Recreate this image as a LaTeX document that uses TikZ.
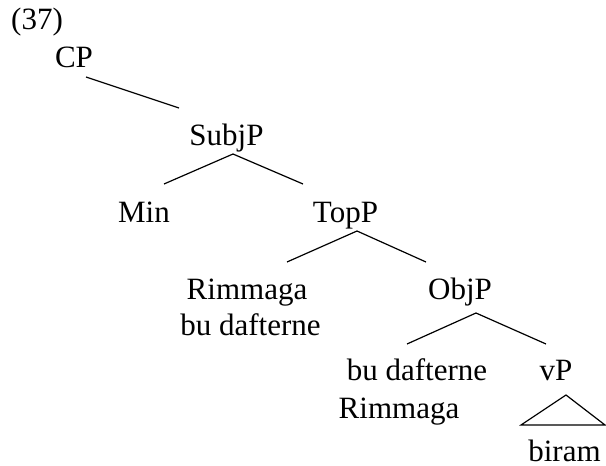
\documentclass[tikz,border=0pt]{standalone}
\usepackage{fontspec}
\setmainfont{Liberation Serif}
\begin{document}
\begin{tikzpicture}[x=1pt,y=-1pt,
  lbl/.style={anchor=base,inner sep=0pt,font=\fontsize{31}{37}\selectfont},
  branch/.style={line width=1.2pt}]
\useasboundingbox (0,0) rectangle (606,466);
% example number
\node[lbl,anchor=base west] (num) at (11,29) {(37)};
% labels
\node[lbl] (cp)    at (74,67)    {CP};
\node[lbl] (subjp) at (226.5,145) {SubjP};
\node[lbl] (min)   at (144,222)  {Min};
\node[lbl] (topp)  at (345.5,222) {TopP};
\node[lbl] (rimA)  at (247,299)  {Rimmaga};
\node[lbl] (buA)   at (250.5,335) {bu dafterne};
\node[lbl] (objp)  at (460,299)  {ObjP};
\node[lbl] (buB)   at (417,380)  {bu dafterne};
\node[lbl] (rimB)  at (399,418)  {Rimmaga};
\node[lbl] (vp)    at (556,380)  {vP};
\node[lbl,text depth=0pt] (biram) at (564.5,461.5) {biram};
% branch end points
\coordinate (cp-b)    at (86,77);
\coordinate (subj-t)  at (179,108);
\coordinate (subj-a)  at (233,154);
\coordinate (min-t)   at (164,184);
\coordinate (top-t)   at (303,184);
\coordinate (top-a)   at (357,231);
\coordinate (rim-t)   at (287,262);
\coordinate (obj-t)   at (426,262);
\coordinate (obj-a)   at (476,313);
\coordinate (bu-t)    at (407,344);
\coordinate (vp-t)    at (546,344);
\coordinate (tri-a)   at (566,395);
\coordinate (tri-l)   at (521,425);
\coordinate (tri-r)   at (605,425);
% branches
\draw[branch] (cp-b) -- (subj-t);
\draw[branch] (min-t) -- (subj-a) -- (top-t);
\draw[branch] (rim-t) -- (top-a) -- (obj-t);
\draw[branch] (bu-t) -- (obj-a) -- (vp-t);
\draw[branch,line join=miter] (tri-a) -- (tri-l) -- (tri-r) -- cycle;
\end{tikzpicture}
\end{document}
